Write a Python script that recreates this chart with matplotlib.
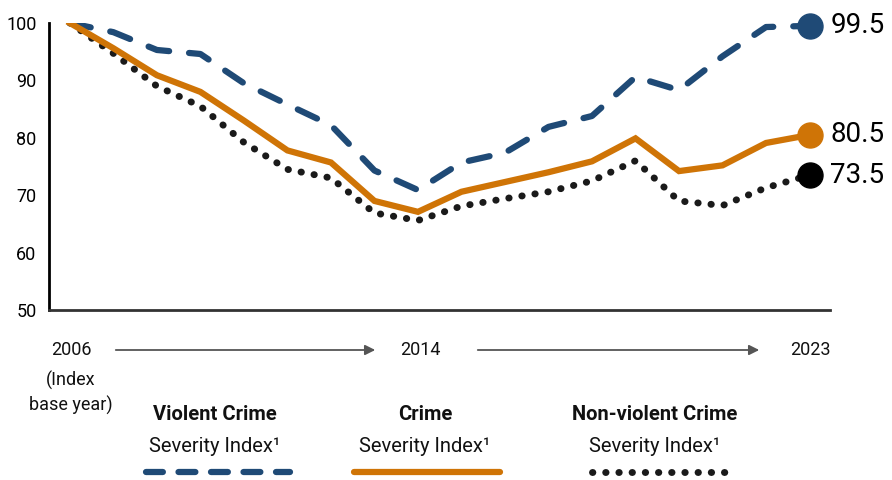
import matplotlib
matplotlib.use("Agg")
import matplotlib.pyplot as plt

years = list(range(2006, 2024))
violent = [100, 98.4, 95.3, 94.6, 89.5, 85.8, 82.2, 74.3, 70.9, 75.7, 77.4, 81.9, 83.8, 90.6, 88.3, 94.2, 99.3, 99.5]
crime = [100, 95.6, 90.9, 88.0, 83.0, 77.8, 75.7, 69.0, 67.1, 70.6, 72.3, 74.0, 75.9, 79.9, 74.2, 75.2, 79.1, 80.5]
nonviolent = [100, 94.7, 89.0, 85.5, 79.2, 74.5, 73.0, 66.9, 65.6, 68.1, 69.4, 70.6, 72.5, 76.0, 69.0, 68.2, 71.3, 73.5]
yticks = [50, 60, 70, 80, 90, 100]
end_labels = ["99.5", "80.5", "73.5"]
legend_titles = ["Violent Crime", "Crime", "Non-violent Crime"]

blue = "#1f4a76"
orange = "#cf7406"
black = "#1a1a1a"
font = ["Roboto", "DejaVu Sans"]

fig = plt.figure(figsize=(8.92, 4.8), dpi=100)
ax = fig.add_axes([49 / 892, 1 - 310 / 480, (830 - 49) / 892, (310 - 23) / 480])

lw = 4.5
ax.plot(years, violent, color=blue, lw=lw, dashes=(3.4, 3.2), dash_capstyle="round",
        solid_joinstyle="round", zorder=3)
ax.plot(years, crime, color=orange, lw=lw, solid_joinstyle="miter", zorder=4)
ax.plot(years, nonviolent, color=black, lw=5, dashes=(0.05, 1.85), dash_capstyle="round", zorder=2)

series = [violent, crime, nonviolent]
colors = [blue, orange, "black"]
for vals, c, lab in zip(series, colors, end_labels):
    ax.plot(years[-1], vals[-1], "o", color=c, ms=18, zorder=5, clip_on=False)
    ax.annotate(lab, (years[-1], vals[-1]), xytext=(15, 0), textcoords="offset points",
                va="center", ha="left", fontsize=20, family=font,
                color="black", annotation_clip=False)

ax.set_xlim(2005.52, 2023.47)
ax.set_ylim(50, 100)
ax.set_yticks(yticks)
ax.set_yticklabels([str(v) for v in yticks], family=font, fontsize=13)
ax.tick_params(axis="y", length=0, pad=9)
ax.set_xticks([])
for s in ["top", "right"]:
    ax.spines[s].set_visible(False)
ax.spines["left"].set_linewidth(2)
ax.spines["bottom"].set_linewidth(2)
ax.spines["bottom"].set_color("#333333")

# bottom timeline
def fx(x):
    return x / 892

def fy(y):
    return 1 - y / 480

tl = dict(family=font, fontsize=13, ha="center", va="center", color="#111111")
fig.text(fx(71), fy(350), "2006", **tl)
fig.text(fx(71), fy(380), "(Index", **tl)
fig.text(fx(71), fy(405), "base year)", **tl)
fig.text(fx(420), fy(350), "2014", **tl)
fig.text(fx(810), fy(350), "2023", **tl)
for x0, x1 in [(113, 378), (475, 762)]:
    fig.add_artist(matplotlib.patches.FancyArrowPatch(
        (fx(x0), fy(350)), (fx(x1), fy(350)), transform=fig.transFigure,
        arrowstyle="-|>,head_length=6,head_width=3", color="#555555", lw=1.3))

# legend
centers = [215, 425, 655]
spans = [(146, 290), (354, 500), (592, 728)]
styles = [dict(color=blue, lw=lw, dashes=(2.7, 2.5), dash_capstyle="round"),
          dict(color=orange, lw=lw, solid_capstyle="round"),
          dict(color=black, lw=5, dashes=(0.05, 1.85), dash_capstyle="round")]
for cx, title, (x0, x1), st in zip(centers, legend_titles, spans, styles):
    fig.text(fx(cx), fy(415), title, family=font, fontsize=14.5, fontweight="bold",
             ha="center", va="center", color="#111111")
    fig.text(fx(cx), fy(447), "Severity Index\u00b9", family=font, fontsize=14.5,
             ha="center", va="center", color="#111111")
    fig.add_artist(matplotlib.lines.Line2D([fx(x0), fx(x1)], [fy(472), fy(472)],
                                           transform=fig.transFigure, **st))

fig.savefig("out.png", dpi=100)
